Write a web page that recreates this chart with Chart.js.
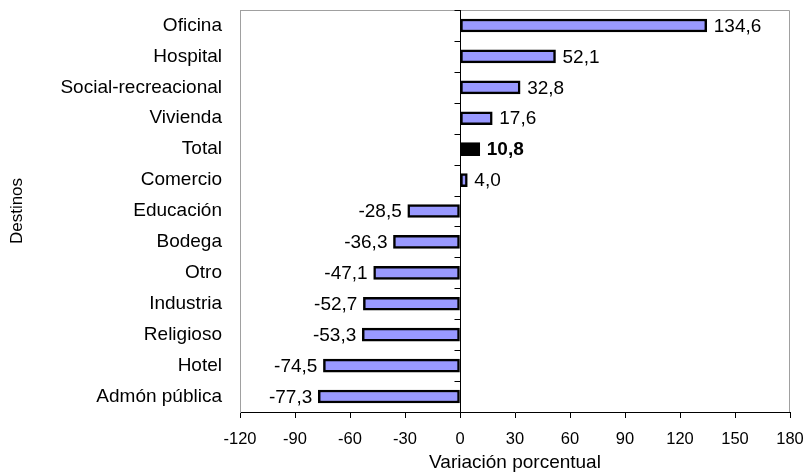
<!DOCTYPE html>
<html>
<head>
<meta charset="utf-8">
<script src="https://cdn.jsdelivr.net/npm/chart.js@4.4.1/dist/chart.umd.min.js"></script>
<style>
  html, body { margin: 0; padding: 0; background: #fff; }
  #wrap { width: 808px; height: 472px; }
</style>
</head>
<body>
<div id="wrap"><canvas id="chart" width="808" height="472"></canvas></div>
<script>
const destinos = ['Oficina', 'Hospital', 'Social-recreacional', 'Vivienda', 'Total', 'Comercio',
  'Educación', 'Bodega', 'Otro', 'Industria', 'Religioso', 'Hotel', 'Admón pública'];
const variacion = [134.6, 52.1, 32.8, 17.6, 10.8, 4.0, -28.5, -36.3, -47.1, -52.7, -53.3, -74.5, -77.3];
const xTicks = [-120, -90, -60, -30, 0, 30, 60, 90, 120, 150, 180];

const FONT = 'Arial, "Liberation Sans", sans-serif';
const fmt = (v) => v.toFixed(1).replace('.', ',');

// frame, zero line with its small ticks, and the value labels
const decor = {
  id: 'decor',
  beforeDatasetsDraw(chart) {
    const { ctx, chartArea: a, scales: { x, y } } = chart;
    ctx.save();
    ctx.strokeStyle = '#a0a0a0';
    ctx.lineWidth = 1;
    ctx.beginPath();
    ctx.moveTo(a.left + 0.5, a.bottom);
    ctx.lineTo(a.left + 0.5, a.top + 0.5);
    ctx.lineTo(a.right - 0.5, a.top + 0.5);
    ctx.lineTo(a.right - 0.5, a.bottom);
    ctx.stroke();

    const x0 = Math.round(x.getPixelForValue(0)) + 0.5;
    ctx.strokeStyle = '#000';
    ctx.beginPath();
    ctx.moveTo(x0, a.top);
    ctx.lineTo(x0, a.bottom);
    const step = (a.bottom - a.top) / destinos.length;
    for (let i = 0; i <= destinos.length; i++) {
      const yy = Math.round(a.top + i * step) + 0.5;
      ctx.moveTo(x0 - 6, yy);
      ctx.lineTo(x0, yy);
    }
    ctx.stroke();
    ctx.restore();
  },
  afterDatasetsDraw(chart) {
    const { ctx } = chart;
    const meta = chart.getDatasetMeta(0);
    ctx.save();
    ctx.fillStyle = '#000';
    ctx.textBaseline = 'middle';
    meta.data.forEach((bar, i) => {
      const v = variacion[i];
      ctx.font = (destinos[i] === 'Total' ? 'bold ' : '') + '19px ' + FONT;
      if (v >= 0) {
        ctx.textAlign = 'left';
        ctx.fillText(fmt(v), bar.x + 7, bar.y + 1);
      } else {
        ctx.textAlign = 'right';
        ctx.fillText(fmt(v), bar.x - 6, bar.y + 1);
      }
    });
    ctx.restore();
  }
};

new Chart(document.getElementById('chart'), {
  type: 'bar',
  data: {
    labels: destinos,
    datasets: [{
      data: variacion,
      backgroundColor: destinos.map(d => d === 'Total' ? '#000000' : '#9999ff'),
      borderColor: '#000',
      borderWidth: 2.5,
      borderSkipped: false,
      barThickness: 13
    }]
  },
  options: {
    indexAxis: 'y',
    responsive: false,
    animation: false,
    devicePixelRatio: 1,
    layout: { padding: { top: 10, right: 18, left: 0, bottom: 0 } },
    plugins: { legend: { display: false }, tooltip: { enabled: false } },
    scales: {
      x: {
        min: -120,
        max: 180,
        afterBuildTicks: (s) => { s.ticks = xTicks.map(v => ({ value: v })); },
        afterFit: (s) => { s.height = 60; s.paddingLeft = 0; s.paddingRight = 0; },
        grid: { display: true, drawOnChartArea: false, drawTicks: true, tickLength: 6, color: '#000' },
        border: { display: true, color: '#000' },
        ticks: { color: '#000', padding: 12, font: { family: FONT, size: 16.5 } },
        title: {
          display: true, text: 'Variación porcentual', color: '#000',
          font: { family: FONT, size: 19 }, padding: { top: 0, bottom: -2 }
        }
      },
      y: {
        afterFit: (s) => { s.width = 240; s.paddingTop = 0; s.paddingBottom = 0; },
        grid: { display: false, drawTicks: false },
        border: { display: true, color: '#a0a0a0' },
        ticks: { color: '#000', padding: 18, font: { family: FONT, size: 19 } },
        title: {
          display: true, text: 'Destinos', color: '#000',
          font: { family: FONT, size: 17 }, padding: { top: 7, bottom: 0 }
        }
      }
    }
  },
  plugins: [decor]
});
</script>
</body>
</html>
